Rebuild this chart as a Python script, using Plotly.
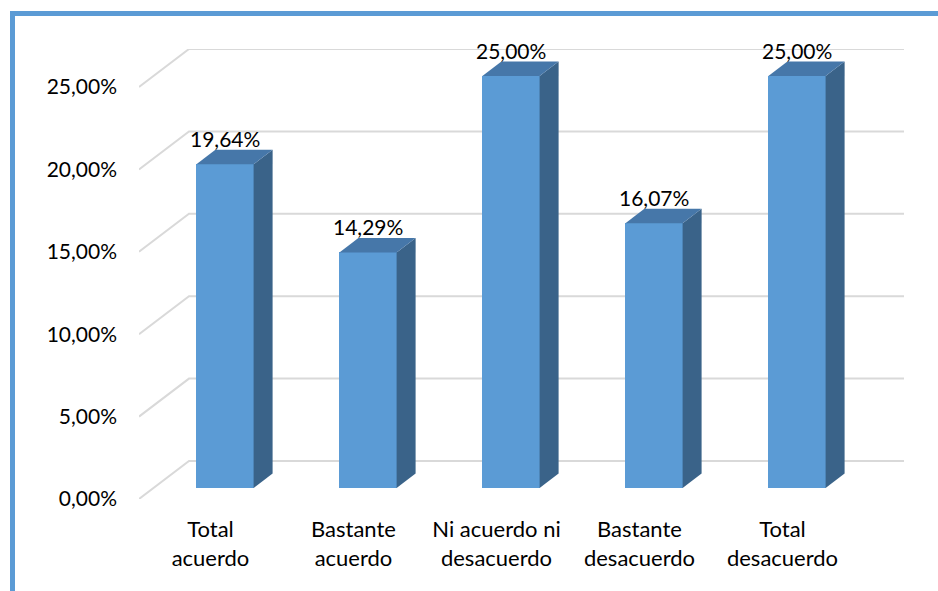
import plotly.graph_objects as go

# Survey answers and their shares (percent)
categories = ["Total<br>acuerdo", "Bastante<br>acuerdo", "Ni acuerdo ni<br>desacuerdo",
              "Bastante<br>desacuerdo", "Total<br>desacuerdo"]
values = [19.64, 14.29, 25.00, 16.07, 25.00]
tick_values = [0, 5, 10, 15, 20, 25]
tick_labels = ["0,00%", "5,00%", "10,00%", "15,00%", "20,00%", "25,00%"]

FRONT = "#5B9BD5"
TOP = "#4677A9"
SIDE = "#3A6389"
GRID = "#D9D9D9"
FONT = "Lato"

# Oblique projection of the depth axis (in data units)
DX = 50 / 143          # categories per unit depth
DY = 38 / 16.48        # percent per unit depth
T0, T1 = 0.29, 0.67    # front / back depth of the bars
HALF = 0.2             # half bar width in category units

W, H = 938, 591
L, R, T, B = 139, 34, 49, 92
pw, ph = W - L - R, H - T - B

fig = go.Figure()

xs = [i + T0 * DX for i in range(len(values))]
base = T0 * DY

# Front faces
fig.add_trace(go.Bar(
    x=xs, y=values, base=[base] * len(values), width=HALF * 2,
    marker=dict(color=FRONT, line=dict(width=0)), hoverinfo="skip", showlegend=False,
))

dx, dy = (T1 - T0) * DX, (T1 - T0) * DY
for xc, v in zip(xs, values):
    xl, xr = xc - HALF, xc + HALF
    y0, y1 = base, base + v
    # side face
    fig.add_trace(go.Scatter(
        x=[xr, xr + dx, xr + dx, xr, xr], y=[y0, y0 + dy, y1 + dy, y1, y0],
        fill="toself", fillcolor=SIDE, mode="lines", line=dict(width=0),
        hoverinfo="skip", showlegend=False, cliponaxis=False,
    ))
    # top face
    fig.add_trace(go.Scatter(
        x=[xl, xr, xr + dx, xl + dx, xl], y=[y1, y1, y1 + dy, y1 + dy, y1],
        fill="toself", fillcolor=TOP, mode="lines", line=dict(width=0),
        hoverinfo="skip", showlegend=False, cliponaxis=False,
    ))
    # value label
    fig.add_annotation(
        x=xc, y=y1 + dy, text=f"{v:.2f}".replace(".", ",") + "%",
        showarrow=False, yanchor="bottom", yshift=-3,
        font=dict(family=FONT, size=21, color="#000000"),
    )

# Floor-to-wall gridlines
x_left, x_right = -0.5, len(values) - 0.5
for v in tick_values:
    fig.add_shape(type="path", xref="x", yref="y", layer="below",
                  path=f"M {x_left} {v} L {x_left + DX} {v + DY} L {x_right + DX} {v + DY}",
                  line=dict(color=GRID, width=2))

# Outer frame (top and left edges)
def px_x(p):
    return (p - L) / pw

def px_y(p):
    return 1 - (p - T) / ph

fig.add_shape(type="line", xref="paper", yref="paper",
              x0=px_x(12.5), y0=px_y(13.5), x1=px_x(945), y1=px_y(13.5),
              line=dict(color="#5B9BD5", width=5))
fig.add_shape(type="line", xref="paper", yref="paper",
              x0=px_x(12.5), y0=px_y(11), x1=px_x(12.5), y1=px_y(600),
              line=dict(color="#5B9BD5", width=5))

fig.update_layout(
    width=W, height=H,
    margin=dict(l=L, r=R, t=T, b=B, pad=0),
    paper_bgcolor="white", plot_bgcolor="white",
    font=dict(family=FONT, size=21, color="#000000"),
    xaxis=dict(range=[x_left, x_right + DX], tickvals=list(range(len(categories))),
               ticktext=categories, showgrid=False, zeroline=False, showline=False,
               ticks="", ticklabelstandoff=15, fixedrange=True,
               tickfont=dict(family=FONT, size=22, color="#000000")),
    yaxis=dict(range=[0, 450 / 16.48], tickvals=tick_values, ticktext=tick_labels,
               showgrid=False, zeroline=False, showline=False,
               ticks="", ticklabelstandoff=21, fixedrange=True,
               tickfont=dict(family=FONT, size=21, color="#000000")),
    bargap=0,
)

fig.write_html("out.html")
